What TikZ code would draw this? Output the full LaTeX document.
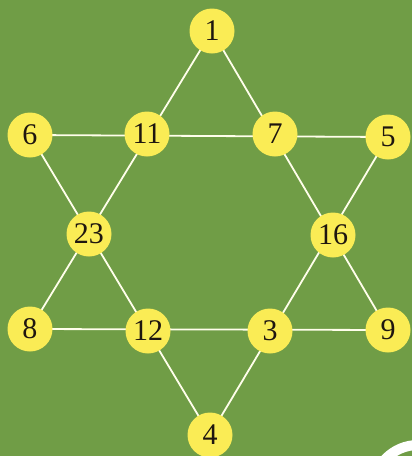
\documentclass[tikz,border=0pt]{standalone}
\usepackage{fontspec}
\setmainfont{Liberation Serif}
\definecolor{bg}{RGB}{112,157,70}
\definecolor{ball}{RGB}{250,236,85}
\definecolor{txt}{RGB}{30,22,15}
\begin{document}
\begin{tikzpicture}[x=1pt,y=-1pt,
  ballnode/.style={circle,fill=ball,minimum size=45pt,inner sep=0pt,font=\fontsize{30}{30}\selectfont,text=txt},
  link/.style={draw=white!92!yellow,line width=1.8pt}]
\fill[bg] (0,0) rectangle (412,456);
\useasboundingbox (0,0) rectangle (412,456);
\coordinate (p1) at (212,31);
\coordinate (p6) at (30,135);
\coordinate (p11) at (147,134);
\coordinate (p7) at (275,134);
\coordinate (p5) at (388,137);
\coordinate (p23) at (89,234);
\coordinate (p16) at (333,235);
\coordinate (p8) at (30,329);
\coordinate (p12) at (148,331);
\coordinate (p3) at (270,331);
\coordinate (p9) at (388,330);
\coordinate (p4) at (210,435);
\draw[link] (p1) -- (p8) (p1) -- (p9) (p8) -- (p9);
\draw[link] (p6) -- (p5) (p6) -- (p4) (p5) -- (p4);
\node[ballnode] (n1) at (p1) {1};
\node[ballnode] (n6) at (p6) {6};
\node[ballnode] (n11) at (p11) {11};
\node[ballnode] (n7) at (p7) {7};
\node[ballnode] (n5) at (p5) {5};
\node[ballnode] (n23) at (p23) {23};
\node[ballnode] (n16) at (p16) {16};
\node[ballnode] (n8) at (p8) {8};
\node[ballnode] (n12) at (p12) {12};
\node[ballnode] (n3) at (p3) {3};
\node[ballnode] (n9) at (p9) {9};
\node[ballnode] (n4) at (p4) {4};
\begin{scope}
\clip (0,0) rectangle (412,456);
\draw[white,line width=10pt] (418,490) circle[radius=45];
\end{scope}
\end{tikzpicture}
\end{document}
